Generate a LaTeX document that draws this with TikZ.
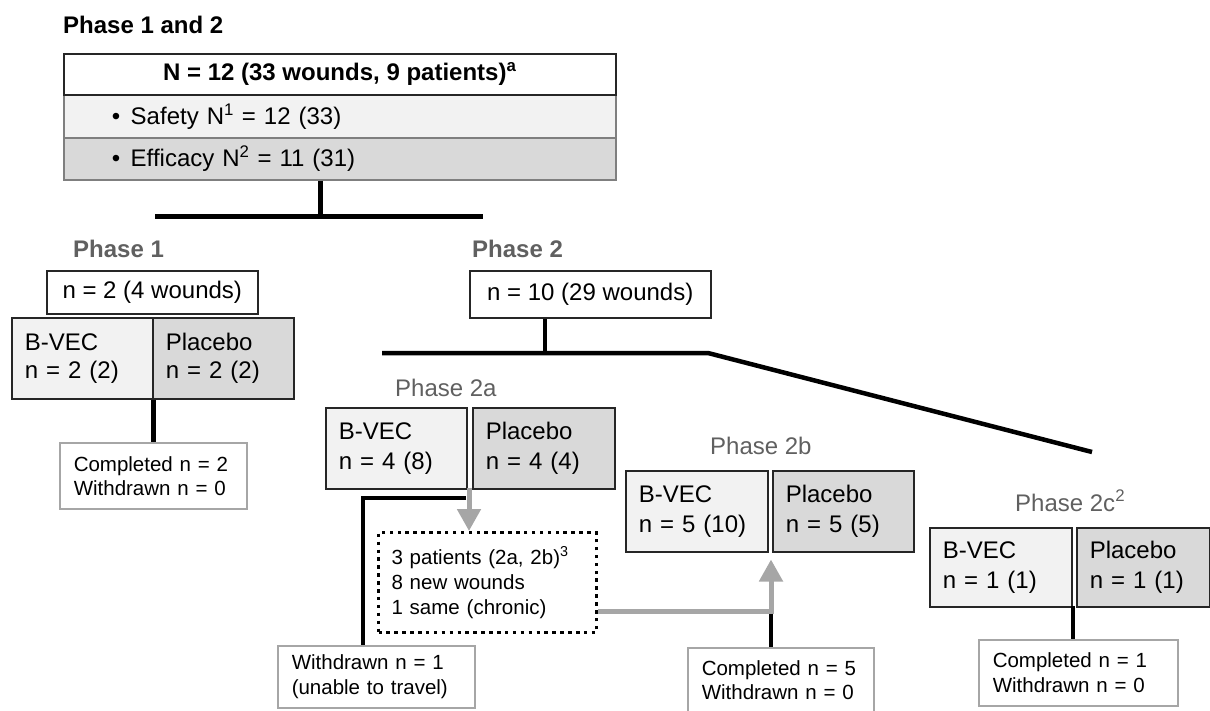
\documentclass[tikz,border=0pt]{standalone}
\usepackage{fontspec}
\setmainfont{Liberation Sans}
\usetikzlibrary{arrows.meta,calc}
\definecolor{lightf}{HTML}{F2F2F2}
\definecolor{darkf}{HTML}{D9D9D9}
\definecolor{labg}{HTML}{606060}
\definecolor{arrg}{HTML}{A6A6A6}
\definecolor{boxg}{HTML}{A6A6A6}
\definecolor{sepg}{HTML}{7F7F7F}
\begin{document}
\begin{tikzpicture}[x=1pt,y=-1pt,
  arm/.style={draw=black!85, line width=1.5pt, anchor=north west, inner xsep=13pt, inner ysep=0pt, align=left, minimum height=81pt, font=\fontsize{24}{30}\selectfont},
  bvec/.style={arm, fill=lightf},
  plac/.style={arm, fill=darkf},
  tot/.style={draw=black!85, line width=1.5pt, anchor=north west, inner sep=0pt, align=center, font=\fontsize{24}{28}\selectfont},
  done/.style={draw=boxg, line width=1.5pt, anchor=north west, inner xsep=14pt, inner ysep=0pt, align=left, font=\fontsize{20.5}{24}\selectfont},
  dotbox/.style={draw=black, line width=3pt, dash pattern=on 3.5pt off 4.4pt, anchor=north west, inner xsep=13pt, inner ysep=0pt, align=left, font=\fontsize{20.5}{25}\selectfont},
  toprow/.style={draw=sepg, line width=1.5pt, anchor=north west, minimum width=552pt, inner xsep=0pt, inner ysep=0pt, font=\fontsize{24}{28}\selectfont},
  phlab/.style={text=labg, anchor=base west, inner sep=0pt, font=\fontsize{24}{28}\selectfont\bfseries},
  sublab/.style={text=labg, anchor=base west, inner sep=0pt, font=\fontsize{24}{28}\selectfont},
  conn/.style={line width=4.5pt, black},
  gline/.style={line width=5pt, arrg},
  garrow/.style={gline, -{Triangle[width=23pt,length=22pt]}},
]
\useasboundingbox (0,0) rectangle (1210,710);

% title and top box
\node[anchor=base west, inner sep=0pt, font=\fontsize{24}{28}\selectfont\bfseries] (title) at (63,33) {Phase 1 and 2};
\node[toprow, fill=lightf, minimum height=43pt, text width=456pt, inner xsep=48pt, align=left] (safety) at (63,94) {\makebox[19pt][l]{\textbullet}Safety N\textsuperscript{1} = 12 (33)};
\node[toprow, fill=darkf, minimum height=42pt, text width=456pt, inner xsep=48pt, align=left] (effic) at (63,137) {\makebox[19pt][l]{\textbullet}Efficacy N\textsuperscript{2} = 11 (31)};
\node[toprow, draw=black!85, fill=white, minimum height=41pt, font=\fontsize{24}{28}\selectfont\bfseries] (hdr) at (63,53) {N = 12 (33 wounds, 9 patients)\textsuperscript{a}};

\coordinate (j1) at (320,216);
\coordinate (j1l) at (155,216);
\coordinate (j1r) at (483,216);
\draw[conn, line width=5pt] (effic.south -| j1) -- (j1);
\draw[conn, line width=5pt] (j1l) -- (j1r);

% Phase 1
\node[phlab] (ph1) at (73,257) {Phase 1};
\node[tot, minimum width=211pt, minimum height=43pt] (p1n) at (46,270) {n = 2 (4 wounds)};
\node[bvec, text width=115pt, font=\fontsize{24}{28}\selectfont] (p1b) at (11,317) {B-VEC\\n = 2 (2)};
\node[plac, text width=115pt, font=\fontsize{24}{28}\selectfont] (p1p) at (152,317) {Placebo\\n = 2 (2)};
\node[done, text width=159pt, minimum height=66pt] (p1d) at (59,442) {Completed n = 2\\Withdrawn n = 0};
\draw[conn] (p1b.south east) -- (p1b.south east |- p1d.north);

% Phase 2
\node[phlab] (ph2) at (472,257) {Phase 2};
\node[tot, minimum width=241pt, minimum height=47pt] (p2n) at (469,270) {n = 10 (29 wounds)};
\coordinate (j2) at (545,353);
\coordinate (j2l) at (382,353);
\coordinate (j2m) at (708,353);
\coordinate (j2r) at (1092,452);
\draw[conn] (p2n.south -| j2) -- (j2);
\draw[conn] (j2l) -- (j2m) -- (j2r);

% Phase 2a
\node[sublab] (ph2a) at (395,396) {Phase 2a};
\node[bvec, text width=115pt] (p2ab) at (325,407) {B-VEC\\n = 4 (8)};
\node[plac, text width=116pt] (p2ap) at (472,407) {Placebo\\n = 4 (4)};
\node[dotbox, text width=192pt, minimum height=100pt] (dots) at (377,531) {3 patients (2a, 2b)\textsuperscript{3}\\8 new wounds\\1 same (chronic)};
\node[done, text width=169pt, minimum height=62pt, font=\fontsize{20.5}{25}\selectfont] (wd) at (277,645) {Withdrawn n = 1\\(unable to travel)};
\coordinate (k1) at (466,498);
\coordinate (k2) at (363,498);
\draw[conn] (k1) -- (k2) -- (k2 |- wd.north);
\coordinate (a2) at (469,488);
\draw[garrow] (a2) -- (a2 |- dots.north);

% Phase 2b
\node[sublab] (ph2b) at (710,454) {Phase 2b};
\node[bvec, text width=116pt] (p2bb) at (625,470) {B-VEC\\n = 5 (10)};
\node[plac, text width=115pt] (p2bp) at (772,470) {Placebo\\n = 5 (5)};
\node[done, text width=158pt, minimum height=64pt] (d2b) at (687,647) {Completed n = 5\\Withdrawn n = 0};
\coordinate (g1) at (771,611);
\draw[garrow, shorten >=7pt] (dots.east |- g1) -- (g1) -- (g1 |- p2bb.south);
\draw[conn] ($(g1)+(0,2.5)$) -- (g1 |- d2b.north);

% Phase 2c
\node[sublab] (ph2c) at (1015,511) {Phase 2c\textsuperscript{2}};
\node[bvec, text width=116pt, minimum height=79pt] (p2cb) at (929,527) {B-VEC\\n = 1 (1)};
\node[plac, text width=107pt, minimum height=79pt] (p2cp) at (1076,527) {Placebo\\n = 1 (1)};
\node[done, text width=171pt, minimum height=66pt, font=\fontsize{20.5}{25}\selectfont] (d2c) at (978,639) {Completed n = 1\\Withdrawn n = 0};
\coordinate (k3) at (1073,606);
\draw[conn] (k3) -- (k3 |- d2c.north);
\end{tikzpicture}
\end{document}
